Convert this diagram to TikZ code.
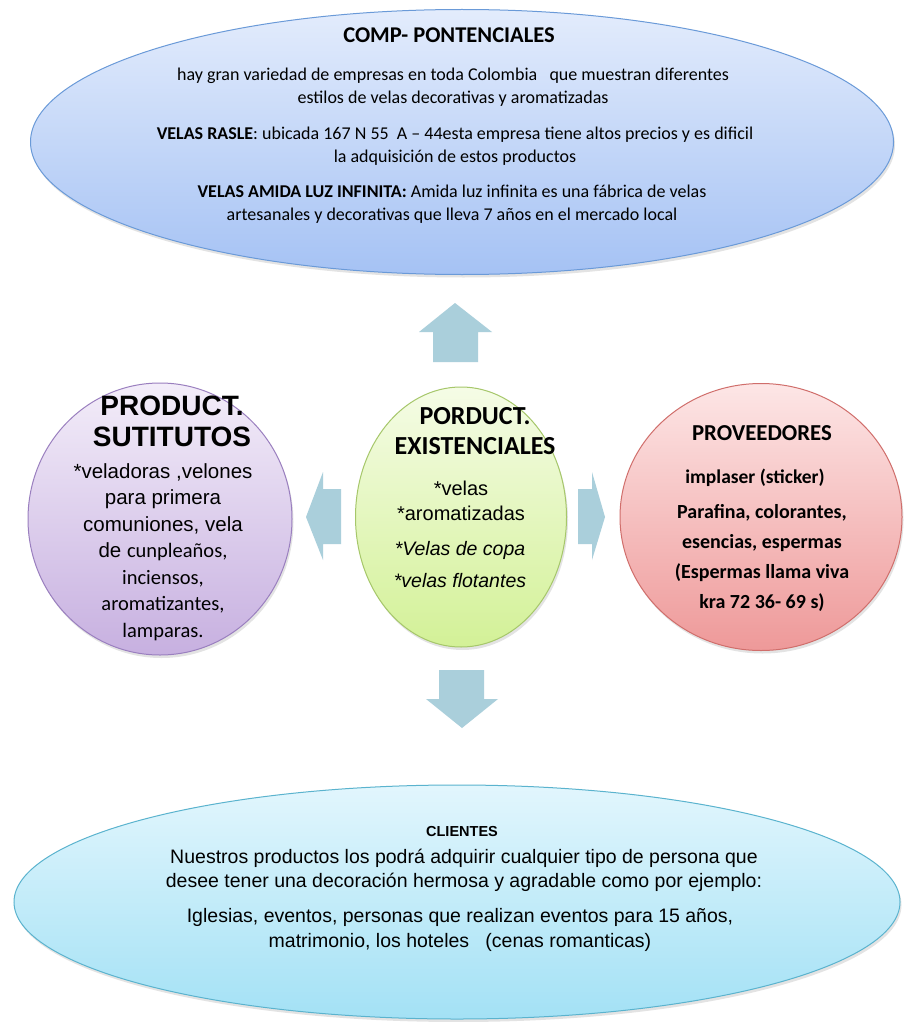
\documentclass[tikz,border=0pt]{standalone}
\usepackage{fontspec}
\setmainfont{Liberation Sans}
\newfontfamily\calfont{Carlito}
\newfontfamily\arifont{Liberation Sans}
\usetikzlibrary{shapes.geometric,shadows}
\definecolor{blueT}{HTML}{E3ECFC}\definecolor{blueB}{HTML}{A5C2F4}\definecolor{blueD}{HTML}{6A9AD8}
\definecolor{purT}{HTML}{F3EDF9}\definecolor{purB}{HTML}{C7B0E0}\definecolor{purD}{HTML}{9A7FBF}
\definecolor{grnT}{HTML}{F5FCE6}\definecolor{grnB}{HTML}{D3F197}\definecolor{grnD}{HTML}{A6C76A}
\definecolor{redT}{HTML}{FDE6E6}\definecolor{redB}{HTML}{EE9999}\definecolor{redD}{HTML}{D06E6B}
\definecolor{cyaT}{HTML}{E2F6FD}\definecolor{cyaB}{HTML}{A3E1F5}\definecolor{cyaD}{HTML}{5AB3CE}
\definecolor{arrC}{HTML}{AACFDB}
\tikzset{
  blob/.style={ellipse, inner sep=0pt, line width=1pt,
    drop shadow={opacity=0.22, shadow xshift=1.5pt, shadow yshift=-3pt}},
  txt/.style={align=center, inner sep=0pt, text=black},
  blockarrow/.style={fill=arrC, draw=none}
}
\begin{document}
\begin{tikzpicture}[x=1pt,y=-1pt]
\fill[white] (0,0) rectangle (903,1022);
\useasboundingbox (0,0) rectangle (903,1022);

% shapes
\node[blob, top color=blueT, bottom color=blueB, draw=blueD, minimum width=863pt, minimum height=265pt] (comp) at (462,142) {};
\node[blob, top color=purT, bottom color=purB, draw=purD, minimum width=264pt, minimum height=272pt] (sust) at (160,519) {};
\node[blob, top color=grnT, bottom color=grnB, draw=grnD, minimum width=211pt, minimum height=260pt] (exis) at (461,517) {};
\node[blob, top color=redT, bottom color=redB, draw=redD, minimum width=282pt, minimum height=267pt] (prov) at (761,517) {};
\node[blob, top color=cyaT, bottom color=cyaB, draw=cyaD, minimum width=886pt, minimum height=234pt] (clie) at (457,902) {};

% block arrows
\fill[blockarrow] (455,303) -- (492,332) -- (478,332) -- (478,362) -- (433,362) -- (433,332) -- (419,332) -- cycle;
\fill[blockarrow] (306,517) -- (323,472) -- (323,489) -- (341,489) -- (341,544) -- (323,544) -- (323,560) -- cycle;
\fill[blockarrow] (605,517) -- (592,472) -- (592,489) -- (578,489) -- (578,544) -- (592,544) -- (592,560) -- cycle;
\fill[blockarrow] (462,728) -- (498,699) -- (484,699) -- (484,670) -- (439,670) -- (439,699) -- (426,699) -- cycle;

% top texts
\node[txt, font=\calfont\bfseries\fontsize{22.5}{26}\selectfont] (c0) at (449,35) {COMP- PONTENCIALES};
\node[txt, font=\calfont\fontsize{18}{23.5}\selectfont] (c1) at (453,87) {hay gran variedad de empresas en toda Colombia\ \ \ que muestran diferentes\\estilos de velas decorativas y aromatizadas};
\node[txt, font=\calfont\fontsize{18}{23.5}\selectfont] (c2) at (455,146) {\textbf{VELAS RASLE}: ubicada 167 N 55\ \ A – 44esta empresa tiene altos precios y es dificil\\la adquisición de estos productos};
\node[txt, font=\calfont\fontsize{18}{23.5}\selectfont] (c3) at (452,204) {\textbf{VELAS AMIDA LUZ INFINITA:} Amida luz infinita es una fábrica de velas\\artesanales y decorativas que lleva 7 años en el mercado local};

% left texts
\node[txt, font=\arifont\bfseries\fontsize{28}{31}\selectfont] (s0) at (172,421) {PRODUCT.\\SUTITUTOS};
\node[txt, font=\arifont\fontsize{20.5}{26.5}\selectfont] (s1) at (163,552) {*veladoras ,velones\\para primera\\comuniones, vela\\de {\calfont cunpleaños,}\\{\calfont inciensos,}\\{\calfont aromatizantes,}\\{\calfont lamparas.}};

% center texts
\node[txt, font=\calfont\bfseries\fontsize{26}{30}\selectfont] (e0) at (475,431) {PORDUCT.\\EXISTENCIALES};
\node[txt, font=\arifont\fontsize{20}{25}\selectfont] (e1) at (461,501) {*velas\\*aromatizadas};
\node[txt, font=\arifont\itshape\fontsize{19.5}{32}\selectfont] (e2) at (460,565) {*Velas de copa\\*velas flotantes};

% right texts
\node[txt, font=\calfont\bfseries\fontsize{22.8}{26}\selectfont] (p0) at (762,433) {PROVEEDORES};
\node[txt, font=\calfont\bfseries\fontsize{19.5}{22}\selectfont] (p1) at (755,478) {implaser (sticker)};
\node[txt, font=\calfont\bfseries\fontsize{20}{30}\selectfont] (p2) at (762,558) {Parafina, colorantes,\\esencias, espermas\\(Espermas llama viva\\kra 72 36- 69 s)};

% bottom texts
\node[txt, font=\arifont\bfseries\fontsize{14.5}{18}\selectfont] (l0) at (462,831) {CLIENTES};
\node[txt, font=\arifont\fontsize{19.5}{24}\selectfont] (l1) at (464,870) {Nuestros productos los podrá adquirir cualquier tipo de persona que\\desee tener una decoración hermosa y agradable como por ejemplo:};
\node[txt, font=\arifont\fontsize{19.5}{25}\selectfont] (l2) at (460,930) {Iglesias, eventos, personas que realizan eventos para 15 años,\\matrimonio, los hoteles\ \ \ (cenas romanticas)};
\end{tikzpicture}
\end{document}
